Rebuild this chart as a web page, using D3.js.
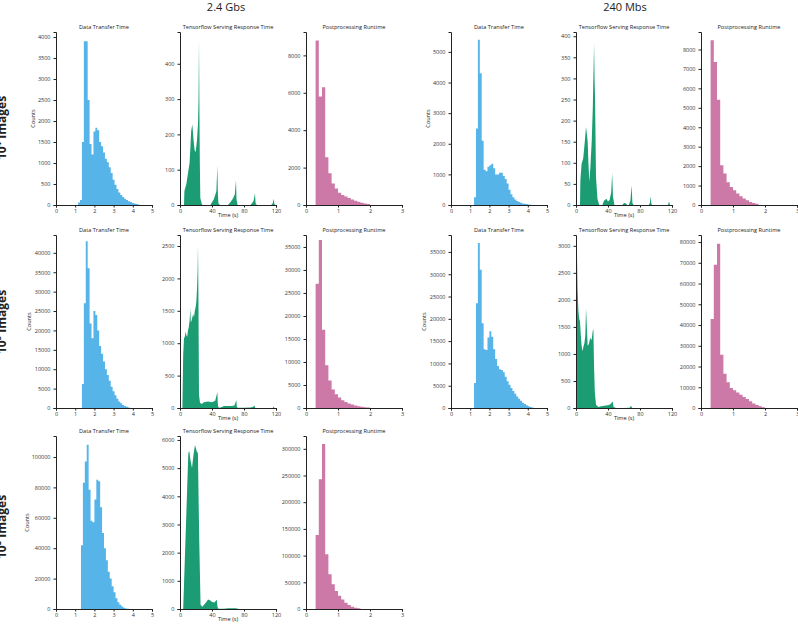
<!DOCTYPE html>
<html>
<head>
<meta charset="utf-8">
<script src="https://cdn.jsdelivr.net/npm/d3@7"></script>
<style>
  body { margin: 0; background: #fff; }
  text { font-family: "Open Sans", "Noto Sans", sans-serif; }
</style>
</head>
<body>
<div id="chart"></div>
<script>
// labels
var colHeaders = ["2.4 Gbs", "240 Mbs"];
var rowLabels = ["10\u2074 Images", "10\u2075 Images", "10\u2076 Images"];
var titles = ["Data Transfer Time", "Tensorflow Serving Response Time", "Postprocessing Runtime"];

// data transfer histograms (bins of 0.1 s)
var dt_24_e4 = [60,120,1500,3900,3900,2500,1450,1200,1750,1840,1780,1500,1400,1250,1100,1020,900,760,600,480,380,300,240,190,150,120,90,70,50,35,25,12];
var dt_240_e4 = [250,2500,5400,4300,2100,1150,1100,1250,1300,1350,1200,1000,1000,1050,1050,950,850,700,500,350,250,180,130,100,70,50,40,30,20,10];
var dt_24_e5 = [6200,27000,43000,36000,21800,18000,25000,24000,20000,16000,14000,12000,10000,8500,7000,5500,4300,3300,2400,1700,1200,800,500,300,150];
var dt_240_e5 = [5600,23500,37000,31000,19000,13200,13000,15800,17200,16000,13200,11000,9400,8700,8500,8000,7000,6000,5200,4500,3800,3200,2600,2100,1600,1200,900,600,400,250,120];
var dt_24_e6 = [42000,83000,97000,108000,78500,58000,57000,72000,85000,84000,67000,50000,40000,32000,24500,20000,15000,11000,7000,4500,2800,1600,900,400,150];

// postprocessing histograms (bins of 0.1 s from 0.3 s)
var pp_24_e4 = [8800,5800,6300,2550,1700,1150,880,650,540,460,380,300,230,170,120,80,50];
var pp_240_e4 = [8480,7360,5410,2050,1620,1170,930,760,590,450,330,240,155,100,70];
var pp_24_e5 = [27000,36500,17000,9300,6000,4000,3000,2300,1700,1300,1000,750,550,400,280,180,100];
var pp_240_e5 = [42900,69000,79200,25700,16500,12400,9600,8500,7500,6400,5300,4300,3200,2200,1400,800,400];
var pp_24_e6 = [138700,243000,308800,102500,65000,46250,33750,25000,18000,11900,7500,4400,2500,1200];

// tensorflow serving response time, [time, count]
var tf_24_e4 = [[5,0],[5.5,40],[8,60],[10,90],[12,120],[14,210],[15.4,228],[17,183],[18.3,155],[19.6,150],[21.2,183],[22.5,230],[23.2,300],[23.75,467],[24.3,260],[24.8,120],[25.4,20],[27,5],[28,0],
  [38,0],[40,8],[42,15],[44,28],[45.5,40],[46.7,112],[47.3,35],[48,5],[50,0],
  [60,0],[63,8],[66,18],[68.5,30],[70,70],[70.7,15],[72,0],
  [88,0],[90,5],[92,12],[93.7,33],[94.5,5],[96,0],
  [114,0],[116,5],[117,18],[118,3],[119,0]];
var tf_240_e4 = [[5,0],[5.5,60],[7,98],[9,110],[11,150],[12.5,185],[13.5,170],[14.6,150],[15.5,100],[16.7,55],[18,90],[19.7,153],[21,230],[21.8,310],[22.6,382],[23.2,300],[23.8,255],[25,66],[26.8,15],[29,0],
  [33,0],[35,10],[38,15],[40,8],[42,12],[44,30],[45.2,76],[46.2,20],[48,0],
  [58,0],[60,5],[62,4],[64,0],
  [66,0],[68,10],[69.5,47],[70.5,5],[72,0],
  [91,0],[92.5,6],[93.3,21],[94.2,3],[95,0],
  [115,0],[116.3,8],[117.5,0]];
var tf_24_e5 = [[3,0],[4,820],[5,1075],[6,1100],[7,1180],[8,1120],[9,1100],[10,1200],[11,1250],[12,1350],[12.9,1537],[13.5,1320],[14.5,1350],[15.5,1400],[16.5,1450],[17.5,1400],[18.5,1500],[19.5,1550],[20.4,1640],[21.3,1850],[22,2100],[22.5,2520],[23,1800],[23.75,200],[25,80],[27,60],[30,90],[35,100],[40,90],[44,110],[46.7,245],[47.3,60],[48,10],[50,5],[55,30],[60,30],[65,30],[68,40],[70.4,120],[71,20],[72,5],[80,5],[88,8],[91,15],[93,40],[94,0],[116,0],[117,25],[118,0]];
var tf_240_e5 = [[0.5,0],[1,3000],[2,2200],[3,1800],[4,1650],[5,1600],[6,1350],[7,1150],[8.3,1050],[9.5,1150],[10.5,1200],[11.7,1350],[12.5,1850],[13.3,1600],[14.6,1150],[16,1180],[17,1250],[18.3,1300],[19.5,1250],[20.8,1416],[21.7,1465],[22.5,800],[23.5,300],[25,60],[28,20],[30,30],[35,40],[40,50],[43,70],[45.8,120],[47,20],[50,0],[60,0],[67,5],[69,43],[70,0]];
var tf_24_e6 = [[4,0],[10.4,5530],[11.6,5610],[13,5300],[15,5000],[17,5500],[18.7,5820],[21,5590],[22.4,5530],[24,2500],[25.7,140],[28,80],[30,150],[33,250],[35,340],[38,300],[40,250],[43,230],[46,330],[46.8,80],[48,10],[55,10],[60,30],[65,25],[70,30],[72,5],[74,0]];

var colors = { dt: "#56B4E9", tf: "#1B9C72", pp: "#CC79A7" };

// panel grid
var colX = [56, 180, 306, 451, 576, 701];
var panelW = 96;
var rowTop = [32, 235, 436];
var rowBottom = [205, 408, 609];

var panels = [
  { r: 0, c: 0, kind: "dt", counts: dt_24_e4, start: 1.15, yMax: 4120, step: 500 },
  { r: 0, c: 1, kind: "tf", pts: tf_24_e4, yMax: 490, step: 100 },
  { r: 0, c: 2, kind: "pp", counts: pp_24_e4, start: 0.3, yMax: 9250, step: 2000 },
  { r: 0, c: 3, kind: "dt", counts: dt_240_e4, start: 1.2, yMax: 5650, step: 1000 },
  { r: 0, c: 4, kind: "tf", pts: tf_240_e4, yMax: 410, step: 50 },
  { r: 0, c: 5, kind: "pp", counts: pp_240_e4, start: 0.3, yMax: 8900, step: 1000 },
  { r: 1, c: 0, kind: "dt", counts: dt_24_e5, start: 1.35, yMax: 44600, step: 5000 },
  { r: 1, c: 1, kind: "tf", pts: tf_24_e5, yMax: 2670, step: 500 },
  { r: 1, c: 2, kind: "pp", counts: pp_24_e5, start: 0.3, yMax: 37600, step: 5000 },
  { r: 1, c: 3, kind: "dt", counts: dt_240_e5, start: 1.2, yMax: 38800, step: 5000 },
  { r: 1, c: 4, kind: "tf", pts: tf_240_e5, yMax: 3200, step: 500 },
  { r: 1, c: 5, kind: "pp", counts: pp_240_e5, start: 0.3, yMax: 83400, step: 10000 },
  { r: 2, c: 0, kind: "dt", counts: dt_24_e6, start: 1.3, yMax: 113800, step: 20000 },
  { r: 2, c: 1, kind: "tf", pts: tf_24_e6, yMax: 6140, step: 1000 },
  { r: 2, c: 2, kind: "pp", counts: pp_24_e6, start: 0.3, yMax: 324000, step: 50000 }
];

var svg = d3.select("#chart")
            .append("svg")
            .attr("width", 798)
            .attr("height", 625);

// column headers
svg.selectAll(".colhead")
   .data(colHeaders)
   .enter()
   .append("text")
   .attr("x", function(d, i) { return i === 0 ? 226 : 625; })
   .attr("y", 11)
   .attr("text-anchor", "middle")
   .style("font-size", "11px")
   .style("fill", "#222")
   .text(function(d) { return d; });

// row labels, half hidden behind the left edge like in the source figure
svg.selectAll(".rowlab")
   .data(rowLabels)
   .enter()
   .append("text")
   .attr("transform", function(d, i) {
       var cy = [128, 322, 527][i];
       return "translate(6," + cy + ") rotate(-90)";
   })
   .attr("text-anchor", "middle")
   .style("font-size", "12px")
   .style("font-weight", "bold")
   .style("fill", "#222")
   .text(function(d) { return d; });

var fmt = d3.format("d");

panels.forEach(function(p) {
    var x0 = colX[p.c];
    var top = rowTop[p.r], bottom = rowBottom[p.r];
    var xMax = p.kind === "dt" ? 5 : (p.kind === "tf" ? 120 : 3);
    var xTicks = p.kind === "dt" ? [0,1,2,3,4,5] : (p.kind === "tf" ? [0,40,80,120] : [0,1,2,3]);

    var xScale = d3.scaleLinear().domain([0, xMax]).range([x0, x0 + panelW]);
    var yScale = d3.scaleLinear().domain([0, p.yMax]).range([bottom, top]);

    var g = svg.append("g");

    if (p.kind === "tf") {
        var area = d3.area()
                     .x(function(d) { return xScale(d[0]); })
                     .y0(yScale(0))
                     .y1(function(d) { return yScale(d[1]); });
        g.append("path")
         .datum(p.pts)
         .attr("d", area)
         .attr("fill", colors.tf);
    } else {
        // histogram drawn as one stepped shape so bins don't show seams
        var bw = 0.1;
        var steps = p.counts.map(function(c, i) { return [p.start + i * bw, c]; });
        steps.push([p.start + p.counts.length * bw, p.counts[p.counts.length - 1]]);
        var hist = d3.area()
                     .curve(d3.curveStepAfter)
                     .x(function(d) { return xScale(d[0]); })
                     .y0(yScale(0))
                     .y1(function(d) { return yScale(d[1]); });
        g.append("path")
         .datum(steps)
         .attr("d", hist)
         .attr("fill", colors[p.kind]);
    }

    // eixos
    var yTicks = d3.range(0, p.yMax + 1, p.step);
    var ya = g.append("g")
              .attr("transform", "translate(" + x0 + ",0)")
              .call(d3.axisLeft(yScale).tickValues(yTicks).tickFormat(fmt).tickSize(2.5).tickPadding(3));
    var xa = g.append("g")
              .attr("transform", "translate(0," + bottom + ")")
              .call(d3.axisBottom(xScale).tickValues(xTicks).tickFormat(fmt).tickSize(2.5).tickPadding(2));
    [ya, xa].forEach(function(a) {
        a.selectAll("text").style("font-size", "5.5px").style("fill", "#333")
         .style("font-family", "'Open Sans', sans-serif");
        a.selectAll("line").attr("stroke", "#222");
        a.select(".domain").attr("stroke", "#222").attr("stroke-width", 1);
    });

    // titulo
    g.append("text")
     .attr("x", x0 + panelW / 2)
     .attr("y", top - 3)
     .attr("text-anchor", "middle")
     .style("font-size", "5.6px")
     .style("fill", "#222")
     .text(titles[p.c % 3]);

    if (p.kind === "dt") {
        var lx = p.r === 0 ? x0 - 21 : (p.r === 1 ? x0 - 25 : x0 - 27);
        g.append("text")
         .attr("transform", "translate(" + lx + "," + ((top + bottom) / 2) + ") rotate(-90)")
         .attr("text-anchor", "middle")
         .style("font-size", "5.6px")
         .style("fill", "#222")
         .text("Counts");
    }
    if (p.kind === "tf") {
        g.append("text")
         .attr("x", x0 + panelW / 2)
         .attr("y", bottom + 12)
         .attr("text-anchor", "middle")
         .style("font-size", "5.6px")
         .style("fill", "#222")
         .text("Time (s)");
    }
});
</script>
</body>
</html>
